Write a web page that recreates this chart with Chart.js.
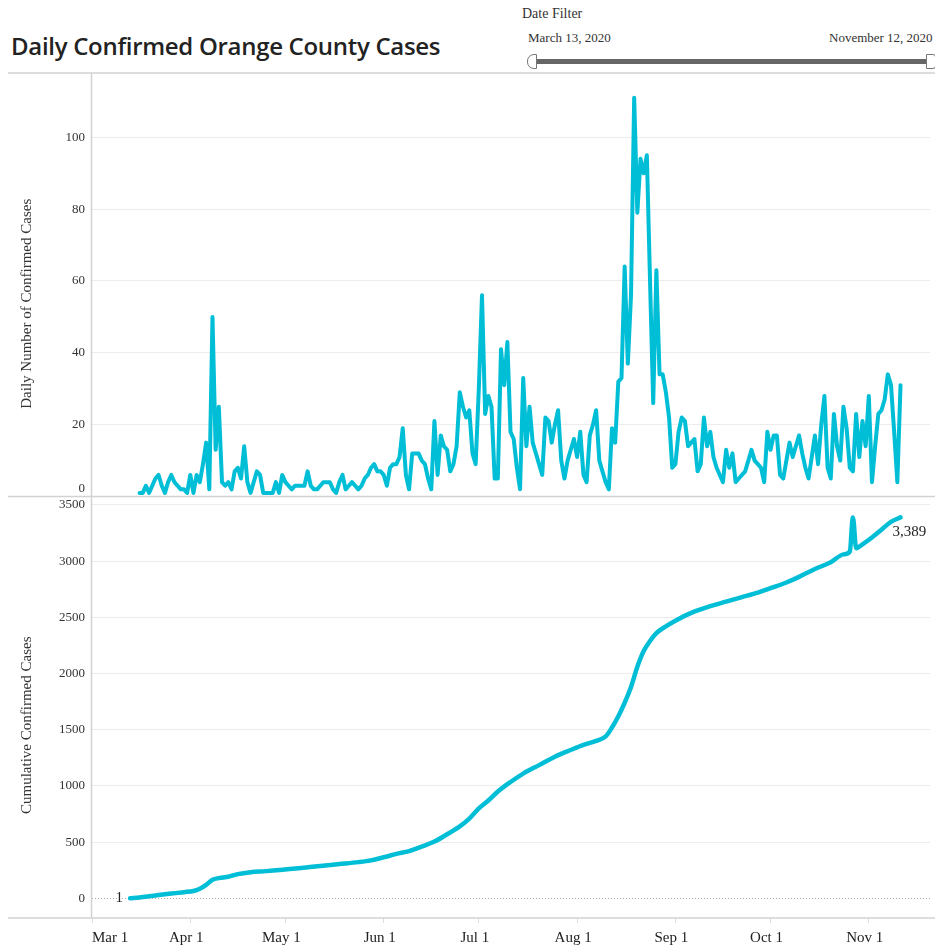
<!DOCTYPE html>
<html><head><meta charset="utf-8">
<script src="https://cdn.jsdelivr.net/npm/chart.js@4.4.0/dist/chart.umd.min.js"></script>
<style>
html,body{margin:0;padding:0;background:#fff;width:935px;height:946px;overflow:hidden;position:relative;font-family:"Liberation Serif",serif;color:#333;}
#title{position:absolute;left:11px;top:29px;font-family:"Open Sans",sans-serif;font-weight:600;font-size:24px;color:#222;white-space:nowrap;letter-spacing:-0.3px;}
#df{position:absolute;left:522px;top:6px;font-size:14px;white-space:nowrap;}
#d1{position:absolute;left:528px;top:30px;font-size:13px;white-space:nowrap;}
#d2{position:absolute;left:829px;top:30px;font-size:13px;white-space:nowrap;}
#track{position:absolute;left:534px;top:59px;width:394px;height:5px;background:#666;}
#h1{position:absolute;left:527px;top:54px;width:10px;height:15px;border:1px solid #777;border-radius:7px 0 0 7px;background:#fff;box-sizing:border-box;}
#h2{position:absolute;left:926px;top:54px;width:10px;height:15px;border:1px solid #777;border-radius:0 3px 3px 0;background:#fff;box-sizing:border-box;}
#c{position:absolute;left:0;top:0;}
</style></head>
<body>
<div id="title">Daily Confirmed Orange County Cases</div>
<div id="df">Date Filter</div>
<div id="d1">March 13, 2020</div>
<div id="d2">November 12, 2020</div>
<div id="track"></div><div id="h1"></div><div id="h2"></div>
<canvas id="c" width="935" height="946"></canvas>
<script>
// x values are days since Mar 1, 2020
const monthTickDays = [0, 31, 61, 92, 122, 153, 184, 214, 245];
const monthTickLabels = ['Mar 1', 'Apr 1', 'May 1', 'Jun 1', 'Jul 1', 'Aug 1', 'Sep 1', 'Oct 1', 'Nov 1'];
const dailyTicks = [0, 20, 40, 60, 80, 100];
const cumTicks = [0, 500, 1000, 1500, 2000, 2500, 3000, 3500];

const dailyStartDay = 15; // Mar 16
const dailyCases = [
  1,1,3,1,3,5,6,3,1,4,
  6,4,3,2,2,1,6,1,6,4,
  9,15,2,50,13,25,4,3,4,2,
  7,8,5,14,4,1,4,7,6,1,
  1,1,1,4,1,6,4,3,2,3,
  3,3,3,7,3,2,2,3,4,4,
  4,2,1,4,6,2,3,4,3,2,
  3,5,6,8,9,7,7,6,3,8,
  9,9,11,19,6,2,12,12,12,10,
  9,5,2,21,6,17,14,13,7,9,
  14,29,25,22,24,12,9,30,56,23,
  28,25,5,5,41,31,43,18,16,8,
  2,33,14,25,15,12,9,6,22,21,
  15,20,24,10,5,10,13,16,11,18,
  6,4,17,20,24,10,7,4,2,19,
  15,32,33,64,37,56,111,79,94,90,
  95,60,26,63,34,34,29,22,8,9,
  18,22,21,14,15,16,7,9,22,14,
  18,11,8,6,4,13,8,12,4,5,
  6,7,10,13,10,9,8,4,18,13,
  17,17,6,5,10,15,11,14,17,12,
  8,5,11,17,9,20,28,8,5,23,
  14,10,25,19,8,7,23,11,21,14,
  28,4,14,23,24,27,34,31,18,4,31
];

const cumDays = [12,15,18,21,25,29,32,34,36,38,40,43,46,50,55,60,66,72,78,84,88,92,96,100,104,108,112,116,119,122,125,128,132,136,141,146,151,155,159,162,164,166,168,170,172,174,176,178,181,184,189,195,200,205,210,214,219,223,228,233,237,239,240,241,243,246,249,252,255];
const cumCases = [1,8,18,29,42,55,65,85,120,165,180,192,215,232,242,255,270,288,305,322,338,365,395,420,460,505,570,640,710,800,870,950,1035,1110,1185,1260,1320,1365,1400,1440,1520,1620,1740,1880,2060,2200,2290,2360,2420,2470,2540,2600,2640,2680,2720,2760,2810,2860,2930,2990,3060,3085,3389,3115,3150,3210,3280,3350,3389];

const LINE = '#00BED6';
const SERIF = '"Liberation Serif", "Times New Roman", serif';

const decor = {
  id: 'decor',
  beforeDatasetsDraw(chart) {
    const {ctx, chartArea} = chart;
    const yc = chart.scales.yCum;
    const y0 = Math.round(yc.getPixelForValue(0)) + 0.5;
    ctx.save();
    ctx.strokeStyle = '#a8a8a8'; ctx.lineWidth = 1; ctx.setLineDash([1, 2]);
    ctx.beginPath(); ctx.moveTo(chartArea.left, y0); ctx.lineTo(chartArea.right, y0); ctx.stroke();
    ctx.restore();
  },
  afterDraw(chart) {
    const {ctx, chartArea} = chart;
    const yd = chart.scales.yDaily, yc = chart.scales.yCum, x = chart.scales.x;
    ctx.save();
    ctx.strokeStyle = '#d2d2d2'; ctx.lineWidth = 1.5;
    const hl = (y) => { ctx.beginPath(); ctx.moveTo(8, y); ctx.lineTo(935, y); ctx.stroke(); };
    hl(chartArea.top);
    hl(yd.bottom);
    hl(chartArea.bottom);
    ctx.beginPath(); ctx.moveTo(chartArea.left - 0.5, chartArea.top); ctx.lineTo(chartArea.left - 0.5, chartArea.bottom); ctx.stroke();

    // upper zero label, lifted above the divider
    ctx.fillStyle = '#333';
    ctx.font = '13px ' + SERIF;
    ctx.textAlign = 'right'; ctx.textBaseline = 'middle';
    ctx.fillText(String(dailyTicks[0]), chartArea.left - 7, yd.getPixelForValue(dailyTicks[0]) - 8);

    // axis titles
    ctx.font = '15px ' + SERIF;
    ctx.textAlign = 'center'; ctx.textBaseline = 'middle';
    const vt = (text, cy) => { ctx.save(); ctx.translate(27, cy); ctx.rotate(-Math.PI / 2); ctx.fillText(text, 0, 0); ctx.restore(); };
    vt('Daily Number of Confirmed Cases', (yd.top + yd.bottom) / 2 + 19);
    vt('Cumulative Confirmed Cases', (yc.top + yc.bottom) / 2 + 18);

    // x tick labels
    ctx.font = '15px ' + SERIF; ctx.fillStyle = '#222';
    monthTickDays.forEach((d, i) => {
      const w = ctx.measureText(monthTickLabels[i]).width;
      let cx = x.getPixelForValue(d) - 4;
      if (cx - w / 2 < chartArea.left) cx = chartArea.left + w / 2;
      ctx.textAlign = 'center';
      ctx.fillText(monthTickLabels[i], cx, chartArea.bottom + 20);
    });

    // start / end annotations
    ctx.font = '15px ' + SERIF; ctx.fillStyle = '#222';
    const fx = x.getPixelForValue(cumDays[0]), fy = yc.getPixelForValue(cumCases[0]);
    ctx.textAlign = 'right'; ctx.textBaseline = 'middle';
    ctx.fillText(cumCases[0].toLocaleString('en-US'), fx - 7, fy);
    const n = cumDays.length - 1;
    const lx = x.getPixelForValue(cumDays[n]), ly = yc.getPixelForValue(cumCases[n]);
    ctx.textAlign = 'left';
    ctx.fillText(cumCases[n].toLocaleString('en-US'), lx - 8, ly + 15);
    ctx.restore();
  }
};

const tickFont = {family: SERIF, size: 13};
const plainLabel = v => String(v);
new Chart(document.getElementById('c'), {
  type: 'line',
  data: {
    datasets: [
      {
        label: 'Daily',
        data: dailyCases.map((v, i) => ({x: dailyStartDay + i, y: v})),
        yAxisID: 'yDaily',
        borderColor: LINE, borderWidth: 4, pointRadius: 0, tension: 0,
        borderJoinStyle: 'round', borderCapStyle: 'round', clip: false, fill: false
      },
      {
        label: 'Cumulative',
        data: cumDays.map((d, i) => ({x: d, y: cumCases[i]})),
        yAxisID: 'yCum',
        borderColor: LINE, borderWidth: 4.5, pointRadius: 0,
        cubicInterpolationMode: 'monotone',
        borderJoinStyle: 'round', borderCapStyle: 'round', clip: false, fill: false
      }
    ]
  },
  options: {
    responsive: false, animation: false, devicePixelRatio: 1,
    layout: {padding: {top: 73, right: 5, left: 0, bottom: 0}},
    plugins: {legend: {display: false}, tooltip: {enabled: false}},
    scales: {
      x: {
        type: 'linear', min: 0, max: 264.3,
        afterBuildTicks: s => { s.ticks = monthTickDays.map(v => ({value: v})); },
        ticks: {display: false},
        grid: {drawOnChartArea: false, drawTicks: true, tickLength: 5, tickColor: '#dcdcdc'},
        border: {display: false},
        afterFit: s => { s.height = 28; }
      },
      yCum: {
        type: 'linear', position: 'left', stack: 'main', stackWeight: 421.5,
        min: -175, max: 3575,
        afterBuildTicks: s => { s.ticks = cumTicks.map(v => ({value: v})); },
        ticks: {font: tickFont, color: '#333', padding: 7, callback: plainLabel},
        grid: {drawTicks: false, color: c => (c.tick && c.tick.value === 0) ? 'rgba(0,0,0,0)' : '#ececec'},
        border: {display: false},
        afterFit: s => { s.width = 92; }
      },
      yDaily: {
        type: 'linear', position: 'left', stack: 'main', stackWeight: 423.5,
        min: 0, max: 117.9,
        afterBuildTicks: s => { s.ticks = dailyTicks.map(v => ({value: v})); },
        ticks: {font: tickFont, color: '#333', padding: 7, callback: v => (v === dailyTicks[0] ? '' : String(v))},
        grid: {drawTicks: false, color: c => (c.tick && c.tick.value === 0) ? 'rgba(0,0,0,0)' : '#ececec'},
        border: {display: false},
        afterFit: s => { s.width = 92; }
      }
    }
  },
  plugins: [decor]
});
</script>
</body></html>
